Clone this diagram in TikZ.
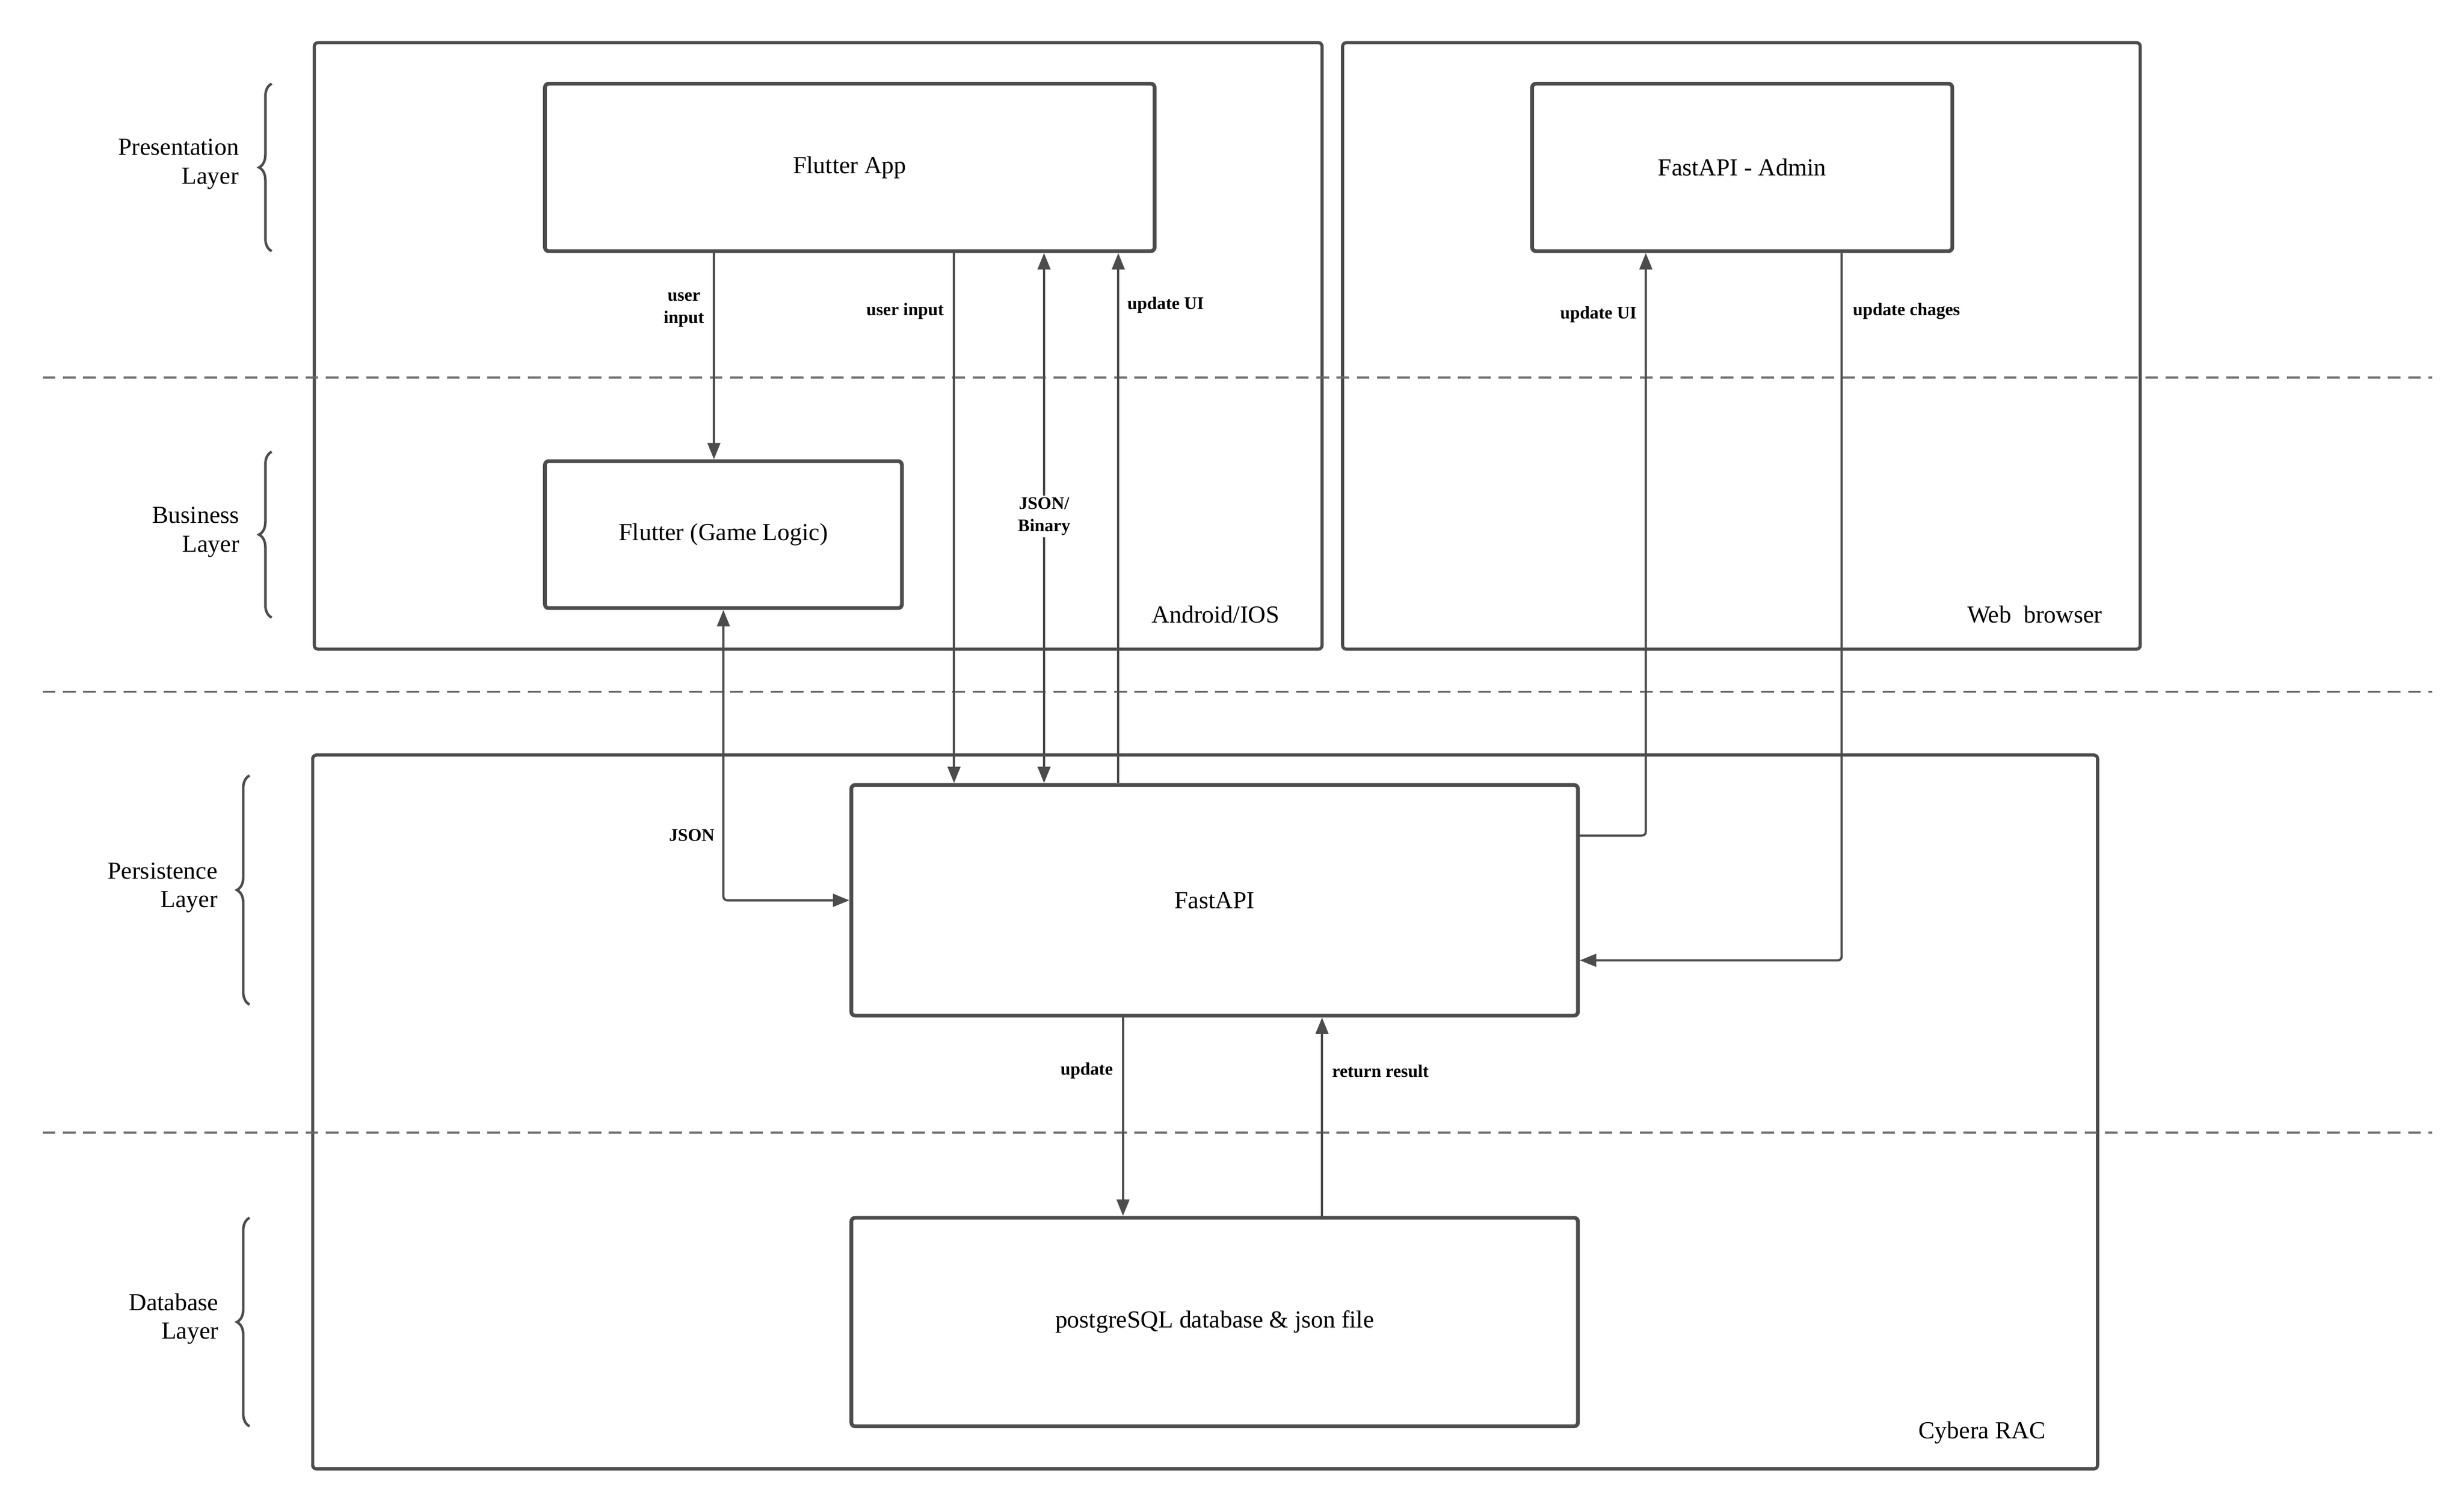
\documentclass[tikz,border=0pt]{standalone}
\usepackage{fontspec}
\setmainfont{Liberation Serif}
\usetikzlibrary{decorations.pathreplacing,arrows.meta}
\begin{document}
\begin{tikzpicture}[x=0.25mm,y=-0.25mm,
	box/.style={draw=black!70,line width=0.6mm,rounded corners=0.6mm,inner sep=0,font=\fontsize{11}{13}\selectfont},
	wrap/.style={box,line width=0.5mm},
	arr/.style={draw=black!70,line width=0.35mm,-{Triangle[length=2.6mm,width=2mm]},rounded corners=0.6mm},
	lbl/.style={font=\bfseries\fontsize{8}{10}\selectfont,align=center,inner sep=1pt},
	layer/.style={font=\fontsize{11}{13}\selectfont,align=right},
	brc/.style={draw=black!70,line width=0.4mm,decorate,decoration={brace,amplitude=2mm}}]
	\useasboundingbox (0,0) rectangle (1560,952);
	% Containers
	\node[wrap,minimum width=159.5mm,minimum height=96mm] (android) at (518,219) {};
	\node[wrap,minimum width=126.25mm,minimum height=96mm] (web) at (1102.5,219) {};
	\node[wrap,minimum width=282.5mm,minimum height=113mm] (cybera) at (763,704) {};
	\node[layer,anchor=east] (androidlbl) at (815,389) {Android/IOS};
	\node[layer,anchor=east] (weblbl) at (1336,389) {Web\ \ browser};
	\node[layer,anchor=east] (cyberalbl) at (1300,907) {Cybera RAC};
	% Layer separators
	\foreach \y in {239,438,717}
		\draw[black!60,dashed,line width=0.3mm,dash pattern=on 2mm off 1.2mm] (27,\y) -- (1540,\y);
	% Boxes
	\node[box,minimum width=96.5mm,minimum height=26.5mm] (app) at (538,106) {Flutter App};
	\node[box,minimum width=66.5mm,minimum height=26.5mm] (admin) at (1103,106) {FastAPI - Admin};
	\node[box,minimum width=56.5mm,minimum height=23.25mm] (logic) at (458,338.5) {Flutter (Game Logic)};
	\node[box,minimum width=115mm,minimum height=36.5mm] (api) at (769,570) {FastAPI};
	\node[box,minimum width=115mm,minimum height=33mm] (db) at (769,837) {postgreSQL database \& json file};
	% Layers
	\node[layer] (pres) at (113,104) {Presentation\\Layer};
	\node[layer] (bus) at (124,337) {Business\\Layer};
	\node[layer] (pers) at (103,562) {Persistence\\Layer};
	\node[layer] (dbl) at (110,835) {Database\\Layer};
	\draw[brc] (172,159) -- (172,53);
	\draw[brc] (172,391) -- (172,286);
	\draw[brc] (158,636) -- (158,491);
	\draw[brc] (158,903) -- (158,771);
	% Connectors
	\draw[arr] (app.south -| 452,0) -- (logic.north -| 452,0);
	\draw[arr] (app.south -| 604,0) -- (api.north -| 604,0);
	\draw[arr,{Triangle[length=2.6mm,width=2mm]}-{Triangle[length=2.6mm,width=2mm]}] (app.south -| 661,0) -- (api.north -| 661,0);
	\draw[arr] (api.north -| 708,0) -- (app.south -| 708,0);
	\draw[arr,{Triangle[length=2.6mm,width=2mm]}-{Triangle[length=2.6mm,width=2mm]}] (logic.south) |- (api.west);
	\draw[arr] (api.east |- 0,529) -| (admin.south -| 1042,0);
	\draw[arr] (admin.south -| 1166,0) |- (api.east |- 0,608);
	\draw[arr] (api.south -| 711,0) -- (db.north -| 711,0);
	\draw[arr] (db.north -| 837,0) -- (api.south -| 837,0);
	% Connector labels
	\node[lbl] (l1) at (433,196) {user\\input};
	\node[lbl] (l2) at (573,197) {user input};
	\node[lbl,fill=white] (l3) at (661,327) {JSON/\\Binary};
	\node[lbl] (l4) at (738,193) {update UI};
	\node[lbl] (l5) at (438,529) {JSON};
	\node[lbl] (l6) at (1012,199) {update UI};
	\node[lbl] (l7) at (1207,197) {update chages};
	\node[lbl] (l8) at (688,678) {update};
	\node[lbl] (l9) at (874,678) {return result};
\end{tikzpicture}
\end{document}
